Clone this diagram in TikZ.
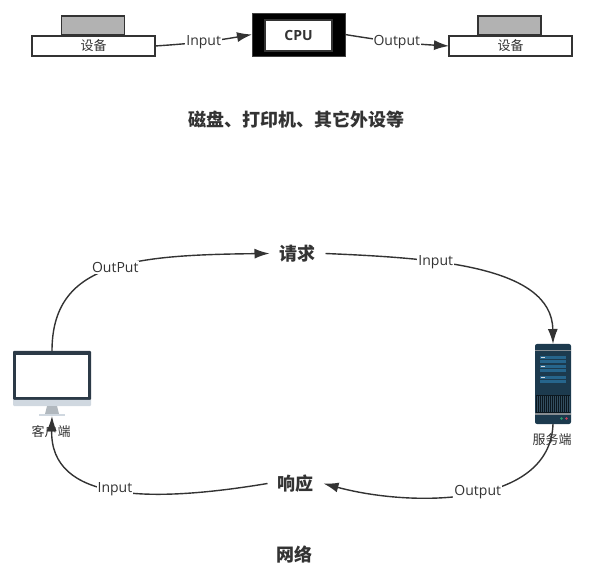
\documentclass[tikz,border=0pt]{standalone}
\usepackage{fontspec}
\setmainfont{Open Sans}
\newfontfamily\cjk{Noto Sans CJK SC}
\usetikzlibrary{arrows.meta}
\definecolor{ink}{HTML}{333333}
\definecolor{bezel}{HTML}{2C3A47}
\definecolor{chin}{HTML}{D0D8E0}
\definecolor{towerblue}{HTML}{1C3A4E}
\definecolor{rowblue}{HTML}{26658C}
\definecolor{ledgreen}{HTML}{2E9E6B}
\definecolor{ledred}{HTML}{C9405A}
\begin{document}
\begin{tikzpicture}[x=1pt, y=-1pt, font=\fontsize{13}{15}\selectfont\cjk]
	\tikzset{
		devtop/.style={rectangle, draw=ink, line width=1.2pt, fill=black!30, minimum width=63pt, minimum height=19pt, inner sep=0pt, outer sep=0pt},
		devbase/.style={rectangle, draw=ink, line width=1.2pt, fill=white, text=ink, minimum width=123pt, minimum height=20pt, inner sep=0pt, outer sep=0pt},
		cpuout/.style={rectangle, draw=black!75, line width=0.6pt, fill=black, minimum width=93pt, minimum height=43pt, inner sep=0pt, outer sep=0pt},
		cpuin/.style={rectangle, draw=ink, line width=1.2pt, fill=white, minimum width=67pt, minimum height=31pt, inner sep=0pt, outer sep=0pt, font=\fontsize{14}{16}\selectfont\rmfamily\bfseries, text=ink},
		heading/.style={text=ink, inner sep=1pt, font=\fontsize{18}{20}\selectfont\cjk\bfseries},
		gapped/.style={outer sep=9pt},
		caption/.style={text=ink, inner sep=1pt},
		wire/.style={draw=ink, line width=1.4pt, -{Latex[length=15pt,width=10pt]}},
		wirelabel/.style={fill=white, text=ink, inner sep=1pt, font=\fontsize{14}{16}\selectfont\rmfamily},
		screenbox/.style={rectangle, rounded corners=1pt, fill=bezel, minimum width=78pt, minimum height=49pt, inner sep=0pt, outer sep=0pt},
		towerbox/.style={rectangle, rounded corners=2pt, fill=towerblue, minimum width=36pt, minimum height=80pt, inner sep=0pt, outer sep=0pt},
		towerrow/.style={fill=rowblue}
	}
	\useasboundingbox (0,0) rectangle (592,577);
	% top row
	\node[devtop] (topa) at (93,25.5) {};
	\node[devbase] (deva) at (93.5,46) {设备};
	\node[devtop] (topb) at (509.5,25.5) {};
	\node[devbase] (devb) at (510.5,46) {设备};
	\node[cpuout] (cpuframe) at (298.5,34.5) {};
	\node[cpuin] (cpu) at (298.5,35.5) {CPU};
	\draw[wire] (deva.east) to[bend right=3] node[wirelabel, pos=0.5] (inputa) {Input} (cpuframe.west);
	\draw[wire] (cpuframe.east) to[bend right=3] node[wirelabel, pos=0.5] (outputa) {Output} (devb.west);
	\node[heading] (titlea) at (296,119.5) {磁盘、打印机、其它外设等};
	% client
	\node[screenbox] (client) at (52,375.5) {};
	\node[rectangle, fill=white, minimum width=72pt, minimum height=42pt, inner sep=0pt] (clientscreen) at (52,376) {};
	\fill[chin] (13,400) -- (91,400) -- (91,405) -- (90,406) -- (14,406) -- (13,405) -- cycle;
	\fill[chin!85!black] (47,406) -- (57,406) -- (59,414) -- (45,414) -- cycle;
	\node[rectangle, fill=chin, minimum width=26pt, minimum height=2pt, inner sep=0pt, outer sep=0pt] (clientbase) at (52,415) {};
	\node[caption] (clientname) at (51,432) {客户端};
	% server
	\node[towerbox] (server) at (553,384) {};
	\fill[black!35!chin] (535,350) rectangle (571,351.5);
	\foreach \y in {356,360,365,369,376,380}
		\fill[towerrow] (540,\y) rectangle (566,\y+3);
	\foreach \y in {356,365,376}
		\fill[chin] (541,\y+1) rectangle (545,\y+2);
	\fill[black!60!towerblue] (536,395) rectangle (570,413);
	\foreach \x in {537,539,...,569}
		\fill[towerblue!90!white] (\x,396) rectangle (\x+0.8,412);
	\fill[black!35!chin] (535,413) rectangle (571,415);
	\fill[ledgreen] (561.5,418.5) circle (1.3);
	\fill[ledred] (566.5,418.5) circle (1.3);
	\node[caption] (servername) at (552,440) {服务端};
	% network
	\node[heading, gapped] (request) at (297.5,253.5) {请求};
	\node[heading, gapped] (response) at (295.5,483.5) {响应};
	\node[heading] (titleb) at (294.5,554.5) {网络};
	\draw[wire] (client.north) .. controls (52,263) and (130,255) .. node[wirelabel, pos=0.53] (outputb) {OutPut} (request.west);
	\draw[wire] (request.east) .. controls (430,258) and (552,265) .. node[wirelabel, pos=0.35] (inputb) {Input} (server.north);
	\draw[wire] (server.south) .. controls (550,508) and (410,507) .. node[wirelabel, pos=0.47] (outputc) {Output} (response.east);
	\draw[wire] (response.west) .. controls (150,503) and (50,502) .. node[wirelabel, pos=0.5] (inputc) {Input} (clientbase.south);
\end{tikzpicture}
\end{document}
